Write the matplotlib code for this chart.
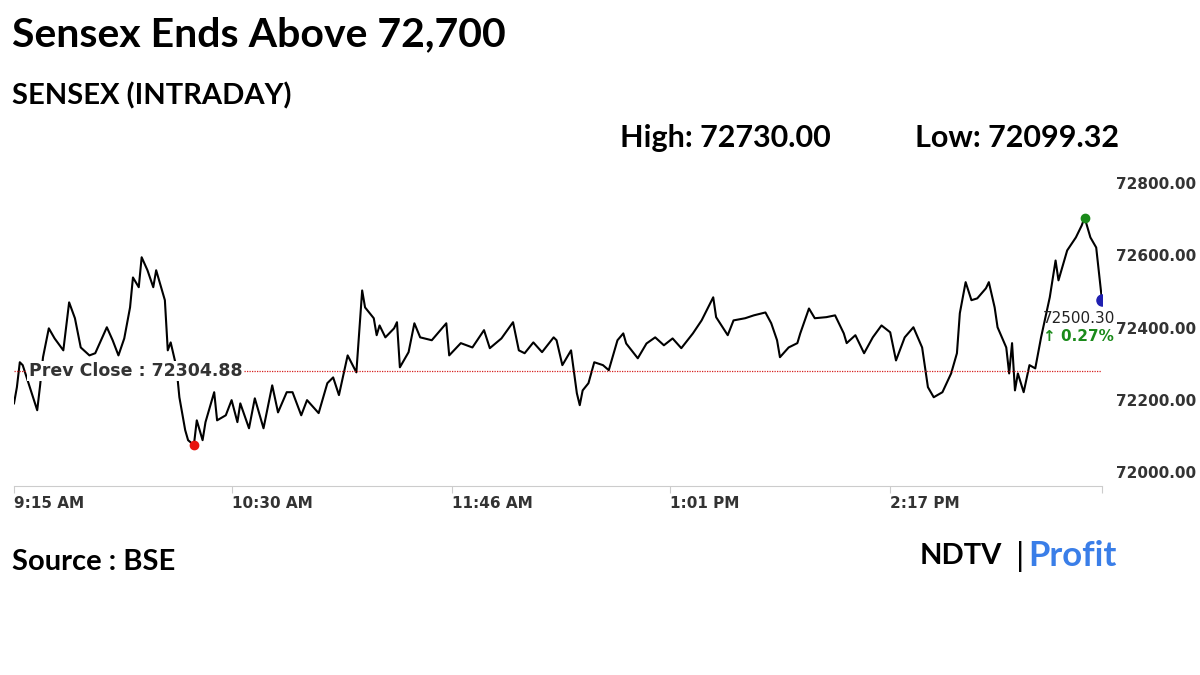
import matplotlib
matplotlib.use("Agg")
import matplotlib.pyplot as plt

minutes = [0,1,2,3,8,9,10,12,14,17,19,21,23,26,28,32,34,36,38,40,41,43,44,46,48,49,52,53,54,56,57,59,60,62,63,65,66,69,70,73,75,77,78,81,83,86,89,91,94,96,99,101,105,108,110,112,115,118,120,121,124,125,126,128,131,132,133,136,138,140,144,149,150,154,158,162,164,168,172,174,176,179,182,186,187,189,192,194,195,196,198,200,203,205,208,210,211,215,218,221,224,227,230,234,237,241,242,246,248,252,255,259,261,263,264,267,270,271,274,276,280,283,286,287,290,293,296,299,302,304,307,310,313,315,317,320,323,325,326,328,330,332,335,336,338,339,342,343,344,345,346,348,350,352,354,357,359,360,363,366,368,369,371,373,375]
values = [72215,72260,72329,72321,72196,72265,72343,72423,72395,72362,72495,72451,72370,72348,72354,72426,72390,72348,72395,72481,72564,72537,72620,72584,72537,72584,72501,72362,72384,72315,72232,72141,72113,72099.32,72168,72113,72163,72246,72168,72182,72224,72163,72215,72146,72229,72146,72265,72190,72246,72246,72182,72224,72188,72271,72287,72238,72348,72301,72528,72481,72451,72404,72431,72398,72423,72440,72315,72357,72437,72398,72390,72437,72348,72382,72370,72418,72368,72395,72440,72362,72354,72384,72357,72398,72390,72321,72362,72243,72210,72251,72271,72329,72321,72307,72390,72409,72381,72340,72381,72398,72376,72395,72368,72409,72445,72509,72454,72404,72445,72451,72459,72467,72437,72390,72343,72370,72382,72409,72478,72451,72454,72459,72409,72382,72404,72354,72398,72431,72412,72334,72398,72426,72370,72260,72232,72246,72298,72354,72465,72551,72501,72506,72534,72551,72481,72426,72370,72298,72382,72251,72298,72246,72321,72312,72398,72509,72611,72556,72639,72675,72708,72730,72675,72647,72500.30]

prev_close = 72304.88
high, low, last, change = 72730.00, 72099.32, 72500.30, 0.27
xtick_pos = [0, 75, 151, 226, 302, 375]
xtick_lab = ["9:15 AM", "10:30 AM", "11:46 AM", "1:01 PM", "2:17 PM", ""]
ytick_pos = [72000, 72200, 72400, 72600, 72800]

fig = plt.figure(figsize=(12, 6.75), dpi=100)
ax = fig.add_axes([14/1200, 1-486/675, 1088/1200, 311/675])
ax.plot(minutes, values, color="black", lw=1.5)
ax.axhline(prev_close, color="#d62020", lw=0.9, ls=(0, (1, 1)))
ax.set_xlim(0, 375)
ax.set_ylim(71986, 72848)
ilow = values.index(low); ihigh = values.index(high)
ax.plot(minutes[ilow], low, "o", color="#e8140e", ms=6, zorder=5)
ax.plot(minutes[ihigh], high, "o", color="#1a8a1a", ms=6, zorder=5)
ax.plot(minutes[-1], last, "o", color="#1f1fb0", ms=8, zorder=5)
for s in ["top", "left", "right"]:
    ax.spines[s].set_visible(False)
ax.spines["bottom"].set_color("#cccccc")
ax.set_xticks(xtick_pos)
ax.set_xticklabels(xtick_lab, ha="left", fontsize=11, fontweight="bold", color="#333333")
ax.tick_params(axis="x", length=5, color="#cccccc", pad=2)
ax.yaxis.tick_right()
ax.set_yticks(ytick_pos)
ax.set_yticklabels([f"{v:.2f}" for v in ytick_pos], fontsize=11, fontweight="bold", color="#333333", va="bottom")
ax.tick_params(axis="y", length=0, pad=10)
ax.text(5, prev_close, f"Prev Close : {prev_close:.2f}", fontsize=12.5, color="#333333", fontweight="semibold",
        va="center", ha="left", bbox=dict(fc="white", ec="none", pad=1), zorder=6)
ax.text(minutes[-1]-8, last-30, f"{last:.2f}", fontsize=11, color="#222222", ha="center", va="top")
ax.text(minutes[-1]-8, last-78, f"\u2191 {change:.2f}%", fontsize=11, color="#1a8a1a",
        fontweight="bold", ha="center", va="top")

ff = ["Lato", "DejaVu Sans"]
fig.text(12/1200, 1-35/675, "Sensex Ends Above 72,700", fontsize=29.5, fontweight="bold", family=ff, va="center")
fig.text(12/1200, 1-96/675, "SENSEX (INTRADAY)", fontsize=21, fontweight="bold", family=ff, va="center")
fig.text(620/1200, 1-138/675, f"High: {high:.2f}", fontsize=22, fontweight="bold", family=ff, va="center")
fig.text(915/1200, 1-138/675, f"Low: {low:.2f}", fontsize=22, fontweight="bold", family=ff, va="center")
fig.text(12/1200, 1-562/675, "Source : BSE", fontsize=21, fontweight="bold", family=ff, va="center")
fig.text(920/1200, 1-556/675, "NDTV", fontsize=21, fontweight="bold", family=ff, va="center", color="black")
fig.text(1016/1200, 1-556/675, "|", fontsize=24, family=ff, va="center", color="black")
fig.text(1028/1200, 1-556/675, "Profit", fontsize=25, fontweight="bold", family=ff, va="center", color="#3a7ee8")
fig.savefig("out.png", dpi=100)
